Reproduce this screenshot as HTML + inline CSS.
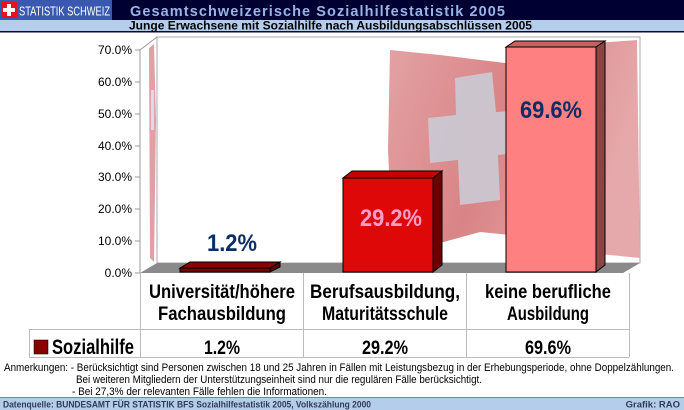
<!DOCTYPE html>
<html><head><meta charset="utf-8"><style>
html,body{margin:0;padding:0;background:#fff;}
svg{display:block;}
text{font-family:"Liberation Sans",Arial,sans-serif;}
</style></head><body>
<svg width="684" height="410" viewBox="0 0 684 410" xmlns="http://www.w3.org/2000/svg">
<defs>
<linearGradient id="fg" x1="0" y1="0" x2="1" y2="0.3">
<stop offset="0" stop-color="#e3a2a4"/><stop offset="0.5" stop-color="#d98486"/><stop offset="1" stop-color="#e6a9ab"/>
</linearGradient>
</defs>
<!-- header -->
<rect x="0" y="0" width="684" height="21" fill="#000033"/>
<rect x="0" y="0" width="112" height="21" fill="#3a58b0"/>
<rect x="1" y="2" width="16" height="16" fill="#e8101e"/>
<rect x="7" y="4" width="4" height="12" fill="#fff"/>
<rect x="3" y="8" width="12" height="4" fill="#fff"/>
<text x="19" y="15.5" font-size="13" fill="#fff" textLength="91" lengthAdjust="spacingAndGlyphs">STATISTIK SCHWEIZ</text>
<text x="130" y="16" font-size="14.5" font-weight="bold" fill="#9ab4e6" textLength="375" lengthAdjust="spacing">Gesamtschweizerische Sozialhilfestatistik 2005</text>
<rect x="0" y="20" width="684" height="11" fill="#b3cdea"/>
<rect x="0" y="31" width="684" height="1.5" fill="#0a0a3a"/>
<text x="129" y="29.5" font-size="12" font-weight="bold" fill="#000" textLength="403" lengthAdjust="spacingAndGlyphs">Junge Erwachsene mit Sozialhilfe nach Ausbildungsabschlüssen 2005</text>

<!-- chart walls -->
<rect x="157" y="37" width="483" height="226" fill="#fff" stroke="#aaa" stroke-width="1"/>
<line x1="140" y1="50" x2="157" y2="37" stroke="#999"/>
<line x1="140" y1="50" x2="140" y2="273" stroke="#999"/>
<!-- left flag sliver -->
<path d="M149 48 L154 44 L156 120 L154 262 L150 258 Z" fill="#e2a0a6"/>
<rect x="151" y="90" width="3" height="40" fill="#d8dde6"/>
<!-- flag -->
<path d="M390 50 L440 55 L505 63 L540 47 L637 40 L640 258 L600 254 L560 240 L480 232 L440 243 L392 237 L388 150 Z" fill="url(#fg)"/>
<path d="M455 78 L492 72 L496 112 L525 110 L528 152 L498 155 L500 200 L460 205 L458 160 L430 163 L428 118 L456 115 Z" fill="#c9ced8" opacity="0.85"/>
<!-- floor -->
<path d="M140 273 L157 263 L640 263 L623 273 Z" fill="#8a8a8a"/>
<!-- ticks -->
<g stroke="#999">
<line x1="135" y1="50" x2="140" y2="50"/><line x1="135" y1="82" x2="140" y2="82"/>
<line x1="135" y1="114" x2="140" y2="114"/><line x1="135" y1="146" x2="140" y2="146"/>
<line x1="135" y1="177" x2="140" y2="177"/><line x1="135" y1="209" x2="140" y2="209"/>
<line x1="135" y1="241" x2="140" y2="241"/><line x1="135" y1="273" x2="140" y2="273"/>
</g>
<g font-size="12" fill="#000" text-anchor="end" style="font-family:'DejaVu Sans',sans-serif">
<text x="132" y="54">70.0%</text><text x="132" y="86">60.0%</text>
<text x="132" y="118">50.0%</text><text x="132" y="150">40.0%</text>
<text x="132" y="181">30.0%</text><text x="132" y="213">20.0%</text>
<text x="132" y="245">10.0%</text><text x="132" y="277">0.0%</text>
</g>
<g stroke="#000" stroke-width="1">
<path d="M180 268 L190 262 L280 262 L270 268 Z" fill="#8b0000"/>
<path d="M270 268 L280 262 L280 267 L270 272 Z" fill="#5a0000"/>
<rect x="180" y="268" width="90" height="4" fill="#7a0000"/>
<path d="M343 178 L352 171 L442 171 L433 178 Z" fill="#c80000"/>
<path d="M433 178 L442 171 L442 265 L433 272 Z" fill="#6a0000"/>
<rect x="343" y="178" width="90" height="94" fill="#de0808"/>
<path d="M506 47 L515 41 L605 41 L596 47 Z" fill="#c86060"/>
<path d="M596 47 L605 41 L605 265 L596 272 Z" fill="#8a4444"/>
<rect x="506" y="47" width="90" height="225" fill="#ff8080"/>
</g>
<text x="232" y="251" font-size="24" font-weight="bold" fill="#0d2d66" text-anchor="middle" textLength="50" lengthAdjust="spacingAndGlyphs">1.2%</text>
<text x="391" y="226" font-size="24" font-weight="bold" fill="#ff9ec8" text-anchor="middle" textLength="62" lengthAdjust="spacingAndGlyphs">29.2%</text>
<text x="551" y="118" font-size="24" font-weight="bold" fill="#0d2d66" text-anchor="middle" textLength="62" lengthAdjust="spacingAndGlyphs">69.6%</text>

<!-- table -->
<g stroke="#bbb" stroke-width="1" fill="none">
<line x1="140.5" y1="273" x2="140.5" y2="357"/>
<line x1="303.5" y1="273" x2="303.5" y2="357"/>
<line x1="466.5" y1="273" x2="466.5" y2="357"/>
<line x1="629.5" y1="273" x2="629.5" y2="357"/>
<line x1="29" y1="329.5" x2="629" y2="329.5"/>
<line x1="29" y1="357.5" x2="629" y2="357.5"/>
<line x1="29.5" y1="329" x2="29.5" y2="357"/>
</g>
<g font-size="19" font-weight="bold" fill="#000" text-anchor="middle">
<text x="222" y="298" textLength="146" lengthAdjust="spacingAndGlyphs">Universität/höhere</text>
<text x="222" y="320" textLength="128" lengthAdjust="spacingAndGlyphs">Fachausbildung</text>
<text x="385" y="298" textLength="150" lengthAdjust="spacingAndGlyphs">Berufsausbildung,</text>
<text x="385" y="320" textLength="126" lengthAdjust="spacingAndGlyphs">Maturitätsschule</text>
<text x="548" y="298" textLength="126" lengthAdjust="spacingAndGlyphs">keine berufliche</text>
<text x="548" y="320" textLength="82" lengthAdjust="spacingAndGlyphs">Ausbildung</text>
</g>
<rect x="34" y="340" width="14" height="14" fill="#8b0000" stroke="#000" stroke-width="0.5"/>
<text x="52" y="354" font-size="21" font-weight="bold" fill="#000" textLength="82" lengthAdjust="spacingAndGlyphs">Sozialhilfe</text>
<g font-size="19" font-weight="bold" fill="#000" text-anchor="middle">
<text x="222" y="354" textLength="36" lengthAdjust="spacingAndGlyphs">1.2%</text>
<text x="385" y="354" textLength="46" lengthAdjust="spacingAndGlyphs">29.2%</text>
<text x="548" y="354" textLength="46" lengthAdjust="spacingAndGlyphs">69.6%</text>
</g>
<g font-size="11" fill="#000">
<text x="4" y="371" textLength="670" lengthAdjust="spacingAndGlyphs">Anmerkungen: - Berücksichtigt sind Personen zwischen 18 und 25 Jahren in Fällen mit Leistungsbezug in der Erhebungsperiode, ohne Doppelzählungen.</text>
<text x="76" y="383" textLength="406" lengthAdjust="spacingAndGlyphs">Bei weiteren Mitgliedern der Unterstützungseinheit sind nur die regulären Fälle berücksichtigt.</text>
<text x="72" y="395" textLength="255" lengthAdjust="spacingAndGlyphs">- Bei 27,3% der relevanten Fälle fehlen die Informationen.</text>
</g>
<rect x="0" y="397" width="684" height="13" fill="#b3cdea"/>
<line x1="0" y1="397.5" x2="684" y2="397.5" stroke="#6a86b8"/>
<text x="3" y="407.5" font-size="9.5" font-weight="bold" fill="#333a55" textLength="368" lengthAdjust="spacingAndGlyphs">Datenquelle: BUNDESAMT FÜR STATISTIK BFS Sozialhilfestatistik 2005, Volkszählung 2000</text>
<text x="680" y="407.5" font-size="9.5" font-weight="bold" fill="#333a55" text-anchor="end">Grafik: RAO</text>
</svg>
</body></html>
